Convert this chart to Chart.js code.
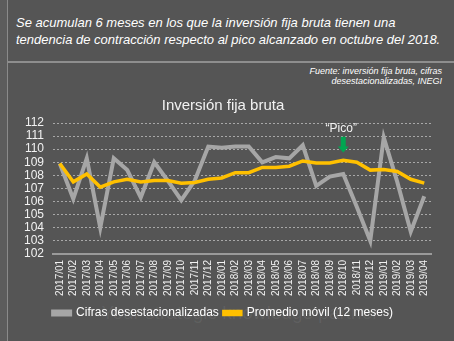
<!DOCTYPE html>
<html>
<head>
<meta charset="utf-8">
<script src="https://cdn.jsdelivr.net/npm/chart.js@4/dist/chart.umd.min.js"></script>
<style>
  html, body { margin: 0; padding: 0; background: #555555; }
  #panel {
    position: relative; width: 454px; height: 341px; overflow: hidden;
    background: #555555; font-family: "Liberation Sans", Arial, sans-serif;
  }
  #edge {
    position: absolute; left: 0; top: 0; width: 7px; height: 341px;
    background: #5c5c5c; border-right: 1px solid #8a8a8a;
  }
  #headline {
    position: absolute; left: 16px; top: 14px; width: 436px; white-space: nowrap;
    color: #ffffff; font-style: italic; font-size: 13px; line-height: 17px;
  }
  #rule {
    position: absolute; left: 8px; top: 61px; width: 446px; height: 2px; background: #8e8e8e;
  }
  #source {
    position: absolute; right: 12px; top: 66px; text-align: right;
    color: #ffffff; font-style: italic; font-size: 9px; line-height: 10px;
  }
  #tagline {
    position: absolute; left: 100px; top: 302px; width: 280px; text-align: center;
    color: rgba(255,255,255,0.07); font-size: 19px;
  }
  #wrap { position: absolute; left: 0; top: 88px; width: 454px; height: 253px; }
</style>
</head>
<body>
<div id="panel">
  <div id="edge"></div>
  <div id="headline">Se acumulan 6 meses en los que la inversión fija bruta tienen una<br>tendencia de contracción respecto al pico alcanzado en octubre del 2018.</div>
  <div id="rule"></div>
  <div id="source">Fuente: inversión fija bruta, cifras<br>desestacionalizadas, INEGI</div>
  <div id="tagline">Your strategic knowledge partner</div>
  <div id="wrap"><canvas id="chart" width="454" height="253"></canvas></div>
</div>
<script>
// months 2017/01 .. 2019/04
const months = [
  '2017/01','2017/02','2017/03','2017/04','2017/05','2017/06','2017/07','2017/08','2017/09','2017/10','2017/11','2017/12',
  '2018/01','2018/02','2018/03','2018/04','2018/05','2018/06','2018/07','2018/08','2018/09','2018/10','2018/11','2018/12',
  '2019/01','2019/02','2019/03','2019/04'
];

// seasonally adjusted index
const cifras = [
  108.9, 106.2, 109.3, 104.0, 109.3, 108.4, 106.3, 109.0, 107.6, 106.1, 107.6, 110.2,
  110.1, 110.2, 110.2, 109.0, 109.4, 109.3, 110.3, 107.2, 107.9, 108.1, 105.6, 103.0,
  110.9, 107.5, 103.7, 106.4
];

// 12-month moving average
const promedio = [
  108.9, 107.5, 108.1, 107.1, 107.5, 107.7, 107.5, 107.6, 107.6, 107.4, 107.45, 107.7,
  107.8, 108.2, 108.2, 108.6, 108.6, 108.7, 109.1, 108.95, 108.95, 109.15, 109.0, 108.4,
  108.45, 108.3, 107.7, 107.4
];

const yTicksMin = 102;
const yTicksMax = 112;

// "Pico" marker
const picoMonth = '2018/10';
const picoLabelAt = 111.55;
const picoArrowTop = 110.95;
const picoArrowTip = 109.75;

const FONT = '"Liberation Sans", Arial, sans-serif';

const picoMarker = {
  id: 'picoMarker',
  afterDatasetsDraw(chart) {
    const { ctx, scales } = chart;
    const x = scales.x.getPixelForValue(months.indexOf(picoMonth));
    const yText = scales.y.getPixelForValue(picoLabelAt);
    const yTop = scales.y.getPixelForValue(picoArrowTop);
    const yTip = scales.y.getPixelForValue(picoArrowTip);
    ctx.save();
    ctx.fillStyle = '#f2f2f2';
    ctx.font = '12px ' + FONT;
    ctx.textAlign = 'center';
    ctx.textBaseline = 'middle';
    ctx.fillText('\u201CPico\u201D', x - 2, yText);

    const headH = 6;
    ctx.fillStyle = '#00a651';
    ctx.beginPath();
    ctx.moveTo(x - 2.5, yTop);
    ctx.lineTo(x + 2.5, yTop);
    ctx.lineTo(x + 2.5, yTip - headH);
    ctx.lineTo(x + 5.5, yTip - headH);
    ctx.lineTo(x, yTip);
    ctx.lineTo(x - 5.5, yTip - headH);
    ctx.lineTo(x - 2.5, yTip - headH);
    ctx.closePath();
    ctx.fill();
    ctx.restore();
  }
};

new Chart(document.getElementById('chart'), {
  type: 'line',
  data: {
    labels: months,
    datasets: [
      {
        label: 'Cifras desestacionalizadas',
        data: cifras,
        borderColor: '#a6a6a6',
        backgroundColor: '#a6a6a6',
        borderWidth: 4,
        pointRadius: 0,
        tension: 0,
        order: 2
      },
      {
        label: 'Promedio móvil (12 meses)',
        data: promedio,
        borderColor: '#ffc000',
        backgroundColor: '#ffc000',
        borderWidth: 3.5,
        pointRadius: 0,
        tension: 0,
        order: 1
      }
    ]
  },
  options: {
    responsive: false,
    animation: false,
    layout: { padding: { left: 15, right: 23, top: 0, bottom: 12 } },
    plugins: {
      title: {
        display: true,
        text: 'Inversión fija bruta',
        color: '#f2f2f2',
        font: { family: FONT, size: 15, weight: 'normal' },
        padding: { top: 9, bottom: 8 }
      },
      legend: {
        position: 'bottom',
        labels: {
          color: '#ffffff',
          font: { family: FONT, size: 12 },
          boxWidth: 17,
          boxHeight: 3,
          padding: 5,
          sort: (a, b) => a.datasetIndex - b.datasetIndex
        }
      },
      tooltip: { enabled: false }
    },
    scales: {
      x: {
        offset: true,
        grid: { display: false, drawTicks: false },
        border: { display: true, color: '#9a9a9a', width: 2 },
        ticks: {
          color: '#f2f2f2',
          font: { family: FONT, size: 10 },
          autoSkip: false,
          minRotation: 90,
          maxRotation: 90,
          padding: 6
        }
      },
      y: {
        min: yTicksMin,
        max: yTicksMax,
        grid: { color: '#a8a8a8', lineWidth: 1, drawTicks: false },
        border: { display: false, dash: [2, 2] },
        ticks: {
          stepSize: 1,
          autoSkip: false,
          color: '#f2f2f2',
          font: { family: FONT, size: 12 },
          padding: 9
        }
      }
    }
  },
  plugins: [picoMarker]
});
</script>
</body>
</html>
